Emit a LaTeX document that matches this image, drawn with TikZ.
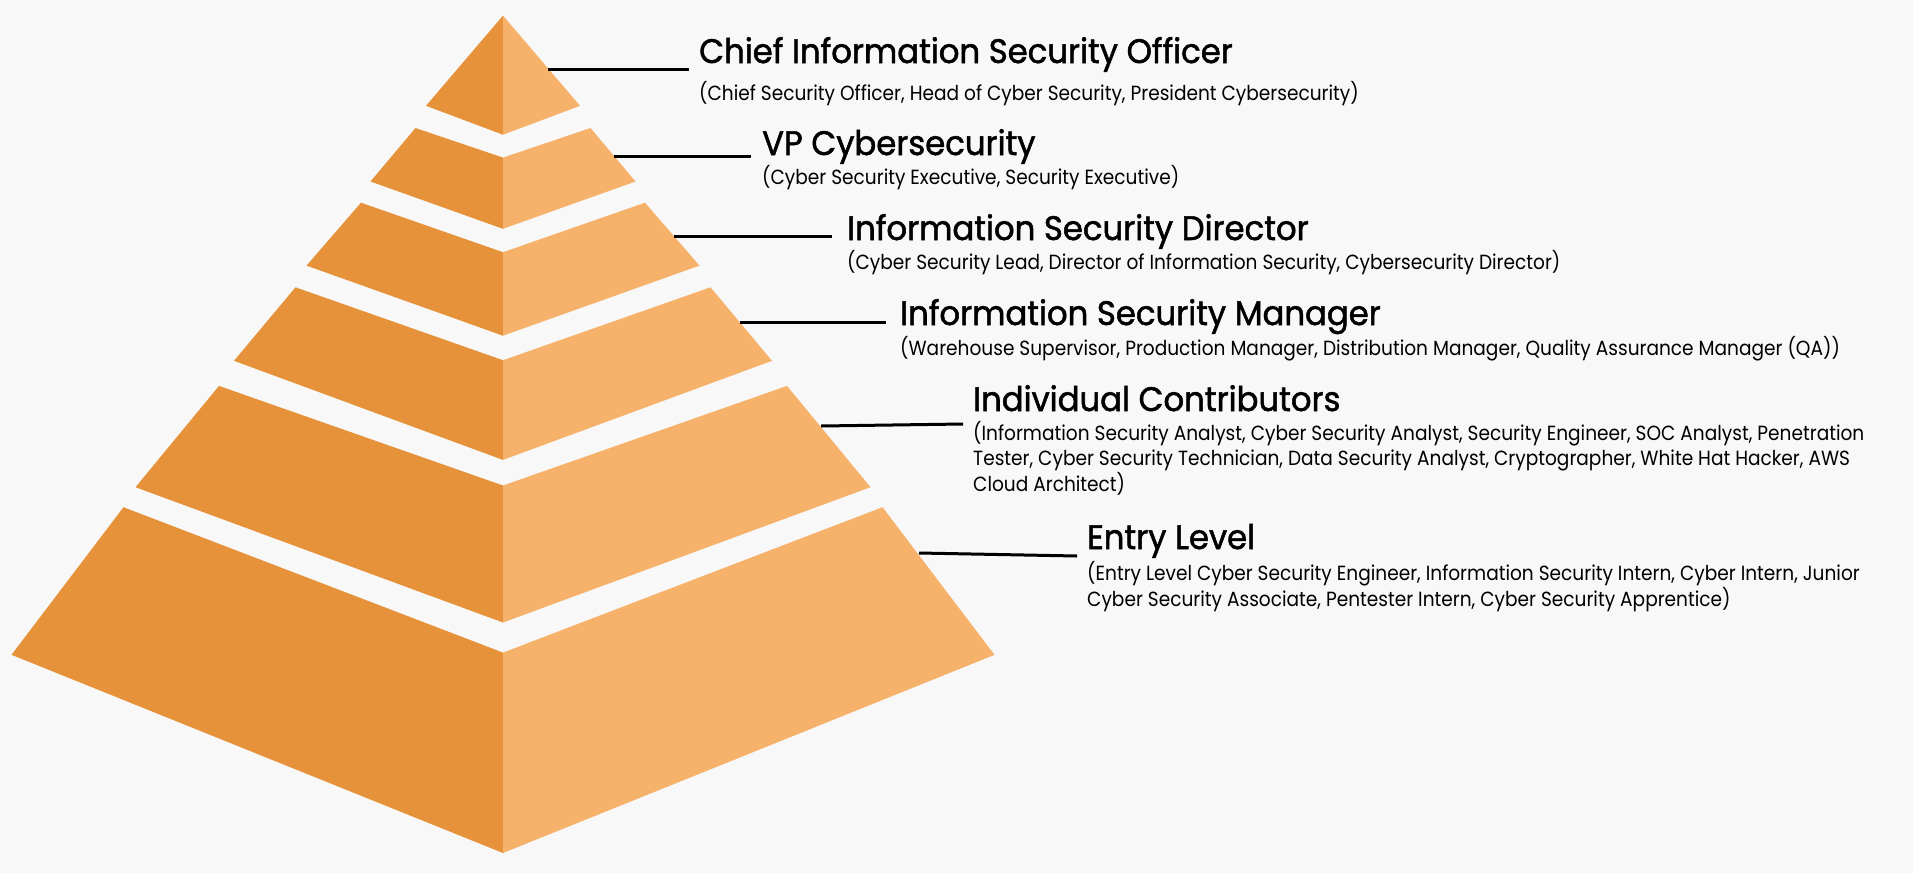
\documentclass[tikz,border=0pt]{standalone}
\usepackage{fontspec}
\setmainfont{Poppins}
\newfontfamily\headfont{Poppins}[FakeStretch=0.95,FakeBold=1.5]
\newfontfamily\subfont{Poppins}[FakeStretch=0.905]
\definecolor{bgc}{HTML}{F8F8F8}
\definecolor{darkface}{HTML}{E6923A}
\definecolor{lightface}{HTML}{F6B26B}
\newcommand{\sublines}[1]{\begin{tabular}[t]{@{}l@{}}#1\end{tabular}}
\tikzset{
  leftface/.style={fill=darkface,draw=none},
  rightface/.style={fill=lightface,draw=none},
  heading/.style={anchor=base west,inner sep=0pt,font=\headfont\fontsize{34}{40}\selectfont},
  subtitle/.style={anchor=base west,inner sep=0pt,font=\subfont\fontsize{20.5}{25}\selectfont},
  connector/.style={draw=black,line width=3pt}
}
\begin{document}
\begin{tikzpicture}[x=1pt,y=-1pt]
\fill[bgc] (0,0) rectangle (1913,873);
\useasboundingbox (0,0) rectangle (1913,873);
% tier 1
\fill[leftface] (503,15.6) -- (426,105.8) -- (503,134.7) -- cycle;
\fill[rightface] (503,15.6) -- (580,105.8) -- (503,134.7) -- cycle;
% tier 2
\fill[leftface] (503,157.6) -- (415.5,128) -- (370.5,181.5) -- (503,228.8) -- cycle;
\fill[rightface] (503,157.6) -- (590.5,128) -- (635.5,181.5) -- (503,228.8) -- cycle;
% tier 3
\fill[leftface] (503,252.2) -- (361,202.7) -- (306.5,265.6) -- (503,335.7) -- cycle;
\fill[rightface] (503,252.2) -- (645,202.7) -- (699.5,265.6) -- (503,335.7) -- cycle;
% tier 4
\fill[leftface] (503,360.2) -- (295.5,287.3) -- (234,360.8) -- (503,459.9) -- cycle;
\fill[rightface] (503,360.2) -- (710.5,287.3) -- (772,360.8) -- (503,459.9) -- cycle;
% tier 5
\fill[leftface] (503,485.5) -- (219,385.9) -- (135.5,487.2) -- (503,622.5) -- cycle;
\fill[rightface] (503,485.5) -- (787,385.9) -- (870.5,487.2) -- (503,622.5) -- cycle;
% tier 6
\fill[leftface] (503,652.6) -- (123.5,507.2) -- (11.5,654.8) -- (503,853) -- cycle;
\fill[rightface] (503,652.6) -- (882.5,507.2) -- (994.5,654.8) -- (503,853) -- cycle;

% texts
\node[heading] (h1) at (699,63) {Chief Information Security Officer};
\node[subtitle] (s1) at (699,100) {(Chief Security Officer, Head of Cyber Security, President Cybersecurity)};
\node[heading] (h2) at (762,155) {VP Cybersecurity};
\node[subtitle] (s2) at (762,184) {(Cyber Security Executive, Security Executive)};
\node[heading] (h3) at (847,240) {Information Security Director};
\node[subtitle] (s3) at (847,269) {(Cyber Security Lead, Director of Information Security, Cybersecurity Director)};
\node[heading] (h4) at (900,325) {Information Security Manager};
\node[subtitle] (s4) at (900,355) {(Warehouse Supervisor, Production Manager, Distribution Manager, Quality Assurance Manager (QA))};
\node[heading] (h5) at (973,411) {Individual Contributors};
\node[subtitle] (s5) at (973,440) {\sublines{(Information Security Analyst, Cyber Security Analyst, Security Engineer, SOC Analyst, Penetration\\Tester, Cyber Security Technician, Data Security Analyst, Cryptographer, White Hat Hacker, AWS\\Cloud Architect)}};
\node[heading] (h6) at (1087,549) {Entry Level};
\node[subtitle] (s6) at (1087,580) {\sublines{(Entry Level Cyber Security Engineer, Information Security Intern, Cyber Intern, Junior\\Cyber Security Associate, Pentester Intern, Cyber Security Apprentice)}};

% connectors
\coordinate (a1) at (548,69);   \coordinate (b1) at (689,69);
\coordinate (a2) at (614,156);  \coordinate (b2) at (751,156);
\coordinate (a3) at (674,236.5);\coordinate (b3) at (832,236.5);
\coordinate (a4) at (740,322);  \coordinate (b4) at (886,322);
\coordinate (a5) at (821,426);  \coordinate (b5) at (963,424);
\coordinate (a6) at (919,553);  \coordinate (b6) at (1077,556);
\draw[connector] (a1) -- (b1);
\draw[connector] (a2) -- (b2);
\draw[connector] (a3) -- (b3);
\draw[connector] (a4) -- (b4);
\draw[connector] (a5) -- (b5);
\draw[connector] (a6) -- (b6);
\end{tikzpicture}
\end{document}
